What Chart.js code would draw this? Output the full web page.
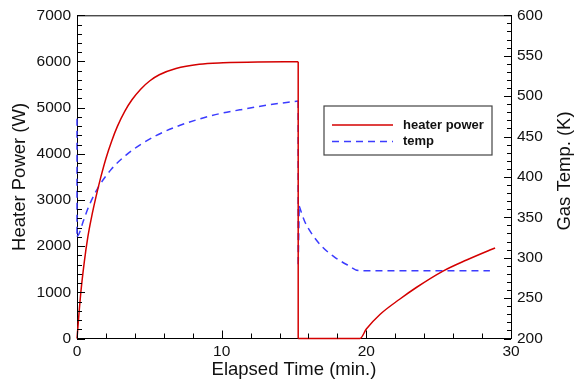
<!DOCTYPE html>
<html lang="en">
<head>
<meta charset="UTF-8">
<title>Heater Power and Gas Temp.</title>
<script src="https://cdn.jsdelivr.net/npm/chart.js"></script>
<style>
    html, body { margin: 0; padding: 0; background: #fff; }
    #wrap { width: 576px; height: 381px; }
</style>
</head>
<body>
<div id="wrap"><canvas id="chart" width="576" height="381"></canvas></div>
<script>
    // heater power (W) against elapsed time (min.)
    const powerTime = [0, 0.25, 0.5, 0.75, 1.0, 1.3, 1.65, 2.0, 2.4, 2.8, 3.3, 3.8, 4.4, 5.04, 5.69, 6.84, 8.45, 10.1, 12.5, 15.29,
                       15.29, 19.56, 20.0, 20.94, 22.3, 23.48, 25.3, 26.93, 28.5, 28.9];
    const powerW = [0, 950, 1650, 2200, 2620, 3050, 3500, 3900, 4280, 4600, 4920, 5170, 5400, 5583, 5713, 5849, 5940, 5972, 5990, 5994,
                    0, 0, 205, 520, 850, 1110, 1460, 1700, 1910, 1961];

    // gas temperature (K) against elapsed time (min.)
    const tempTime = [0, 0, 0.15, 0.45, 0.85, 1.5, 2.4, 3.39, 4.31, 5.46, 6.84, 8.34, 9.8, 11.26, 13.2, 15.29,
                      15.29, 15.36, 15.71, 16.29, 16.98, 17.78, 18.7, 19.5, 28.54];
    const tempK = [472, 326, 330, 346, 365, 388, 410, 427, 439, 451, 462, 471, 478, 483, 489, 494,
                   289, 364, 346, 328, 313, 301, 291, 284, 284];

    const seriesLabels = ['heater power', 'temp'];
    const seriesColors = ['#d40000', '#3c3cff'];
    const xTitle = 'Elapsed Time (min.)';
    const yTitle = 'Heater Power (W)';
    const y1Title = 'Gas Temp. (K)';

    const FONT = "'Liberation Sans', Arial, sans-serif";
    Chart.defaults.font.family = FONT;
    Chart.defaults.color = '#111';

    // split a series where it jumps (almost no time step) so the smooth parts
    // can use monotone curves and the jumps stay straight
    function pieces(xs, ys) {
        const out = [];
        let cur = [{ x: xs[0], y: ys[0] }];
        let steep = null;
        for (let i = 1; i < xs.length; i++) {
            const s = xs[i] - xs[i - 1] < 0.1;
            if (steep !== null && s !== steep) {
                out.push({ steep, pts: cur });
                cur = [cur[cur.length - 1]];
            }
            steep = s;
            cur.push({ x: xs[i], y: ys[i] });
        }
        out.push({ steep, pts: cur });
        return out;
    }

    function makeSets(xs, ys, idx, axis, dash) {
        return pieces(xs, ys).map(p => ({
            label: seriesLabels[idx],
            data: p.pts,
            yAxisID: axis,
            borderColor: seriesColors[idx],
            borderWidth: 1.5,
            borderDash: dash,
            pointRadius: 0,
            tension: 0,
            cubicInterpolationMode: p.steep ? 'default' : 'monotone',
            clip: 2
        }));
    }

    // inward tick marks, top frame line, right-hand title and the boxed legend
    const frameExtras = {
        id: 'frameExtras',
        afterDraw(chart) {
            const { ctx, chartArea: a, scales } = chart;
            ctx.save();
            ctx.strokeStyle = '#000';
            ctx.lineWidth = 1;
            ctx.beginPath();
            ctx.moveTo(a.left, a.top + 0.5);
            ctx.lineTo(a.right, a.top + 0.5);
            for (let v = 0; v <= 30; v += 2) {
                const px = Math.round(scales.x.getPixelForValue(v)) + 0.5;
                const len = v % 10 === 0 ? 8 : 5;
                ctx.moveTo(px, a.bottom);
                ctx.lineTo(px, a.bottom - len);
            }
            for (let v = 0; v <= 7000; v += 200) {
                const py = Math.round(scales.y.getPixelForValue(v)) + 0.5;
                const len = v % 1000 === 0 ? 8 : 5;
                ctx.moveTo(a.left, py);
                ctx.lineTo(a.left + len, py);
            }
            for (let v = 200; v <= 600; v += 10) {
                const py = Math.round(scales.y1.getPixelForValue(v)) + 0.5;
                const len = v % 50 === 0 ? 7 : 4;
                ctx.moveTo(a.right, py);
                ctx.lineTo(a.right - len, py);
            }
            ctx.stroke();

            // right axis title, reading bottom to top
            ctx.save();
            ctx.translate(565, 171);
            ctx.rotate(-Math.PI / 2);
            ctx.fillStyle = '#111';
            ctx.font = '18.5px ' + FONT;
            ctx.textAlign = 'center';
            ctx.textBaseline = 'middle';
            ctx.fillText(y1Title, 0, 0);
            ctx.restore();

            // legend
            ctx.fillStyle = '#fff';
            ctx.fillRect(324, 106, 168, 49);
            ctx.strokeStyle = '#444';
            ctx.lineWidth = 1.2;
            ctx.strokeRect(324, 106, 168, 49);
            const rows = [125, 141.5];
            const dashes = [[], [7, 5]];
            seriesLabels.forEach((label, i) => {
                ctx.beginPath();
                ctx.strokeStyle = seriesColors[i];
                ctx.lineWidth = 1.5;
                ctx.setLineDash(dashes[i]);
                ctx.moveTo(332, rows[i]);
                ctx.lineTo(393, rows[i]);
                ctx.stroke();
                ctx.setLineDash([]);
                ctx.fillStyle = '#111';
                ctx.font = 'bold 13px ' + FONT;
                ctx.textAlign = 'left';
                ctx.textBaseline = 'middle';
                ctx.fillText(label, 403, rows[i]);
            });
            ctx.restore();
        }
    };

    const plain = v => String(v);

    new Chart(document.getElementById('chart'), {
        type: 'line',
        data: {
            datasets: [
                ...makeSets(powerTime, powerW, 0, 'y', []),
                ...makeSets(tempTime, tempK, 1, 'y1', [7, 5])
            ]
        },
        options: {
            responsive: false,
            animation: false,
            layout: { padding: { top: 14.5, left: 0, right: 0, bottom: 0 } },
            plugins: { legend: { display: false }, tooltip: { enabled: false } },
            scales: {
                x: {
                    type: 'linear', position: 'bottom', min: 0, max: 30,
                    ticks: { stepSize: 10, padding: 4, maxRotation: 0, autoSkip: false, font: { size: 15.5 }, callback: plain },
                    grid: { display: false, drawTicks: false },
                    border: { display: true, color: '#000', width: 1 },
                    title: { display: true, text: xTitle, font: { size: 18.5 }, padding: { top: 0, bottom: 0 } },
                    afterFit(s) { s.height = 42.5; }
                },
                y: {
                    position: 'left', min: 0, max: 7000,
                    ticks: { stepSize: 1000, padding: 6, autoSkip: false, font: { size: 15.5 }, callback: plain },
                    grid: { display: false, drawTicks: false },
                    border: { display: true, color: '#000', width: 1 },
                    title: { display: true, text: yTitle, font: { size: 18.5 }, padding: { top: 8.4, bottom: 0 } },
                    afterFit(s) { s.width = 77; }
                },
                y1: {
                    position: 'right', min: 200, max: 600,
                    ticks: { stepSize: 50, padding: 6, autoSkip: false, font: { size: 15.5 }, callback: plain },
                    grid: { display: false, drawTicks: false },
                    border: { display: true, color: '#000', width: 1 },
                    afterFit(s) { s.width = 65; }
                }
            }
        },
        plugins: [frameExtras]
    });
</script>
</body>
</html>
